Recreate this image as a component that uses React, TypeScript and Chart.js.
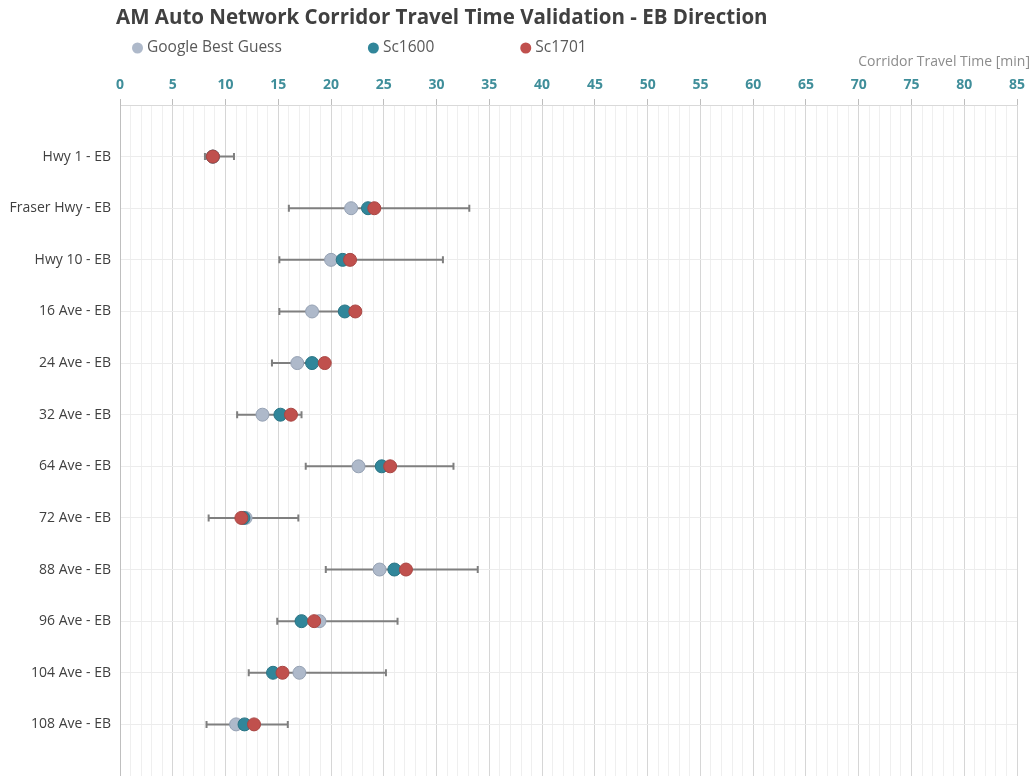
import React, { useEffect, useRef } from 'react';
import { Chart, registerables } from 'chart.js';

Chart.register(...registerables);

const TITLE = 'AM Auto Network Corridor Travel Time Validation - EB Direction';
const AXIS_TITLE = 'Corridor Travel Time [min]';

const corridors = [
  'Hwy 1 - EB',
  'Fraser Hwy - EB',
  'Hwy 10 - EB',
  '16 Ave - EB',
  '24 Ave - EB',
  '32 Ave - EB',
  '64 Ave - EB',
  '72 Ave - EB',
  '88 Ave - EB',
  '96 Ave - EB',
  '104 Ave - EB',
  '108 Ave - EB',
];

const seriesNames = ['Google Best Guess', 'Sc1600', 'Sc1701'];
const googleBest = [8.8, 21.9, 20.0, 18.2, 16.8, 13.5, 22.6, 11.9, 24.6, 18.9, 17.0, 11.0];
const sc1600 = [8.8, 23.5, 21.1, 21.3, 18.2, 15.2, 24.8, 11.7, 26.0, 17.2, 14.5, 11.8];
const sc1701 = [8.8, 24.1, 21.8, 22.3, 19.4, 16.2, 25.6, 11.5, 27.1, 18.4, 15.4, 12.7];
const rangeLow = [8.05, 16.0, 15.1, 15.1, 14.4, 11.1, 17.6, 8.4, 19.5, 14.9, 12.2, 8.2];
const rangeHigh = [10.8, 33.1, 30.6, 21.5, 17.8, 17.2, 31.6, 16.9, 33.9, 26.3, 25.2, 15.9];

const xMin = 0;
const xMax = 85;
const xMajorStep = 5;

const fills = ['#aeb9ca', '#31869a', '#c0504d'];
const borders = ['#95a1b3', '#2a7484', '#a94643'];

const headerPlugin = {
  id: 'header',
  afterDraw(chart: any) {
    const { ctx, chartArea } = chart;
    ctx.save();
    ctx.textBaseline = 'middle';
    ctx.textAlign = 'left';
    ctx.fillStyle = '#404040';
    ctx.font = 'bold 20.5px "Open Sans"';
    ctx.fillText(TITLE, chartArea.left - 4, 18);

    ctx.font = '15.5px "Open Sans"';
    let x = chartArea.left + 12;
    seriesNames.forEach((name, i) => {
      ctx.beginPath();
      ctx.arc(x + 5.5, 48, 5.5, 0, Math.PI * 2);
      ctx.fillStyle = fills[i];
      ctx.fill();
      ctx.fillStyle = '#595959';
      ctx.fillText(name, x + 15, 48);
      x += 15 + ctx.measureText(name).width + 86;
    });

    ctx.textAlign = 'right';
    ctx.fillStyle = '#8c8c8c';
    ctx.font = '14px "Open Sans"';
    ctx.fillText(AXIS_TITLE, chartArea.right + 13, 62);
    ctx.restore();
  },
};

const errorBarPlugin = {
  id: 'errorBars',
  beforeDatasetsDraw(chart: any) {
    const { ctx } = chart;
    const xs = chart.scales.x;
    const ys = chart.scales.y;
    ctx.save();
    ctx.strokeStyle = '#7f7f7f';
    ctx.lineWidth = 2;
    rangeLow.forEach((lo, i) => {
      const py = ys.getPixelForValue(i + 1);
      const x1 = xs.getPixelForValue(lo);
      const x2 = xs.getPixelForValue(rangeHigh[i]);
      ctx.beginPath();
      ctx.moveTo(x1, py);
      ctx.lineTo(x2, py);
      ctx.moveTo(x1, py - 3.5);
      ctx.lineTo(x1, py + 3.5);
      ctx.moveTo(x2, py - 3.5);
      ctx.lineTo(x2, py + 3.5);
      ctx.stroke();
    });
    ctx.restore();
  },
};

export default function App() {
  const canvasRef = useRef<HTMLCanvasElement | null>(null);

  useEffect(() => {
    if (!canvasRef.current) return;
    const series = [googleBest, sc1600, sc1701];
    const chart = new Chart(canvasRef.current, {
      type: 'scatter',
      data: {
        datasets: series.map((vals, i) => ({
          label: seriesNames[i],
          data: vals.map((v, j) => ({ x: v, y: j + 1 })),
          backgroundColor: fills[i],
          borderColor: borders[i],
          borderWidth: 1,
          pointRadius: 6.5,
          pointHoverRadius: 6.5,
          order: 3 - i,
        })),
      },
      options: {
        animation: false,
        responsive: true,
        maintainAspectRatio: false,
        events: [],
        layout: { autoPadding: false, padding: { top: 70, right: 17, bottom: 0, left: 0 } },
        plugins: {
          legend: { display: false },
          title: { display: false },
          tooltip: { enabled: false },
        },
        scales: {
          x: {
            type: 'linear',
            position: 'top',
            min: xMin,
            max: xMax,
            afterFit: (s: any) => {
              s.height = 35;
            },
            ticks: {
              stepSize: 1,
              autoSkip: false,
              maxRotation: 0,
              padding: 6,
              color: '#3f8e9a',
              font: { family: '"Open Sans"', size: 14, weight: 'bold' },
              callback: (v: any) => (Number(v) % xMajorStep === 0 ? String(v) : ''),
            },
            grid: {
              color: (c: any) => (c.tick && c.tick.value % xMajorStep === 0 ? '#d6d6d6' : '#efefef'),
              tickColor: (c: any) => (c.tick && c.tick.value % xMajorStep === 0 ? '#bdbdbd' : 'rgba(0,0,0,0)'),
              tickLength: 6,
              lineWidth: 1,
            },
            border: { display: true, color: '#d9d9d9' },
          },
          y: {
            type: 'linear',
            reverse: true,
            min: 0,
            max: corridors.length + 1,
            afterFit: (s: any) => {
              s.width = 120;
              s.paddingTop = 0;
              s.paddingBottom = 0;
            },
            ticks: {
              stepSize: 1,
              autoSkip: false,
              padding: 9,
              color: '#404040',
              font: { family: '"Open Sans"', size: 14 },
              callback: (v: any) => {
                const n = Number(v);
                return n >= 1 && n <= corridors.length ? corridors[n - 1] : null;
              },
            },
            grid: { color: '#ececec', drawTicks: false },
            border: { display: true, color: '#bfbfbf' },
          },
        },
      },
      plugins: [errorBarPlugin, headerPlugin],
    } as any);
    return () => chart.destroy();
  }, []);

  return (
    <div style={{ position: 'absolute', left: 0, top: 0, width: 1034, height: 776, background: '#ffffff' }}>
      <canvas ref={canvasRef} />
    </div>
  );
}
